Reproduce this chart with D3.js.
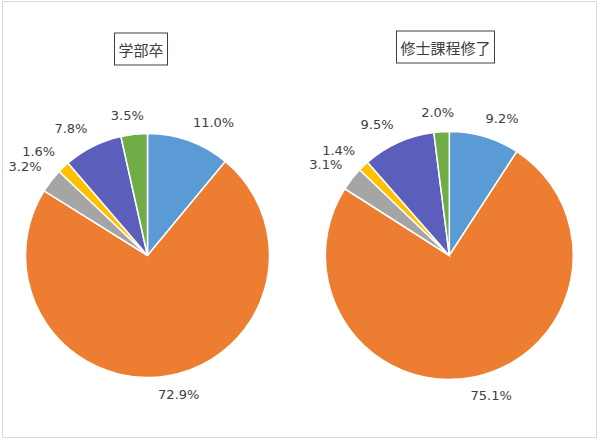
<!DOCTYPE html>
<html>
<head>
<meta charset="utf-8">
<script src="https://cdn.jsdelivr.net/npm/d3@7"></script>
<style>
  body { margin: 0; background: #fff; }
  .pct-label { font-family: 'DejaVu Sans', Verdana, sans-serif; font-size: 13px; fill: #404040; }
  .title-text { font-family: 'Noto Sans CJK JP', sans-serif; font-size: 15px; fill: #404040; }
</style>
</head>
<body>
<div id="wrapper"></div>
<script>
// data
const groups = ['学部卒', '修士課程修了'];
const categories = ['A', 'B', 'C', 'D', 'E', 'F'];
const undergradShares = [11.0, 72.9, 3.2, 1.6, 7.8, 3.5];
const masterShares = [9.2, 75.1, 3.1, 1.4, 9.5, 2.0];
const sliceColors = ['#5B9BD5', '#ED7D31', '#A5A5A5', '#FFC000', '#5B5FBB', '#70AD47'];

function drawChart() {
  const dimensions = { width: 600, height: 442 };

  const wrapper = d3
    .select('#wrapper')
    .append('svg')
    .attr('width', dimensions.width)
    .attr('height', dimensions.height);

  // outer frame
  wrapper
    .append('rect')
    .attr('x', 2.5)
    .attr('y', 1.5)
    .attr('width', 594)
    .attr('height', 436)
    .attr('fill', '#fff')
    .attr('stroke', '#d9d9d9')
    .attr('stroke-width', 1);

  const colorScale = d3.scaleOrdinal().domain(categories).range(sliceColors);

  const pie = d3
    .pie()
    .sort(null)
    .value((d) => d.value);

  const panels = [
    { title: groups[0], values: undergradShares, cx: 147.5, cy: 255.5, radius: 122, titleX: 141, titleY: 49 },
    { title: groups[1], values: masterShares, cx: 449.3, cy: 255.5, radius: 124, titleX: 445.5, titleY: 47 },
  ];

  const clamp = (v) => Math.max(-1, Math.min(1, v));

  panels.forEach((panel) => {
    const data = categories.map((c, i) => ({ category: c, value: panel.values[i] }));
    const arcs = pie(data);
    const arcGenerator = d3.arc().innerRadius(0).outerRadius(panel.radius);

    const bounds = wrapper
      .append('g')
      .attr('transform', `translate(${panel.cx}, ${panel.cy})`);

    bounds
      .selectAll('path')
      .data(arcs)
      .join('path')
      .attr('d', arcGenerator)
      .attr('fill', (d) => colorScale(d.data.category))
      .attr('stroke', '#fff')
      .attr('stroke-width', 1.5);

    // labels outside the end of each slice
    const labelPad = 12;
    arcs.forEach((d) => {
      const angle = (d.startAngle + d.endAngle) / 2;
      const sin = Math.sin(angle);
      const cos = Math.cos(angle);
      const ax = (panel.radius + labelPad) * sin;
      const ay = -(panel.radius + labelPad) * cos;
      const label = bounds
        .append('text')
        .attr('class', 'pct-label')
        .attr('text-anchor', 'middle')
        .attr('dominant-baseline', 'central')
        .text(`${d.data.value.toFixed(1)}%`);
      const w = label.node().getComputedTextLength();
      label
        .attr('x', ax + clamp(sin * 3) * (w / 2))
        .attr('y', ay - clamp(cos * 3) * 7);
    });

    // boxed title
    const titleGroup = wrapper.append('g');
    const title = titleGroup
      .append('text')
      .attr('class', 'title-text')
      .attr('x', panel.titleX)
      .attr('y', panel.titleY)
      .attr('text-anchor', 'middle')
      .attr('dominant-baseline', 'central')
      .text(panel.title);
    const tw = title.node().getComputedTextLength();
    titleGroup
      .insert('rect', 'text')
      .attr('x', panel.titleX - tw / 2 - 4)
      .attr('y', panel.titleY - 16)
      .attr('width', tw + 8)
      .attr('height', 32)
      .attr('fill', '#fff')
      .attr('stroke', '#404040')
      .attr('stroke-width', 1);
  });
}
drawChart();
</script>
</body>
</html>
